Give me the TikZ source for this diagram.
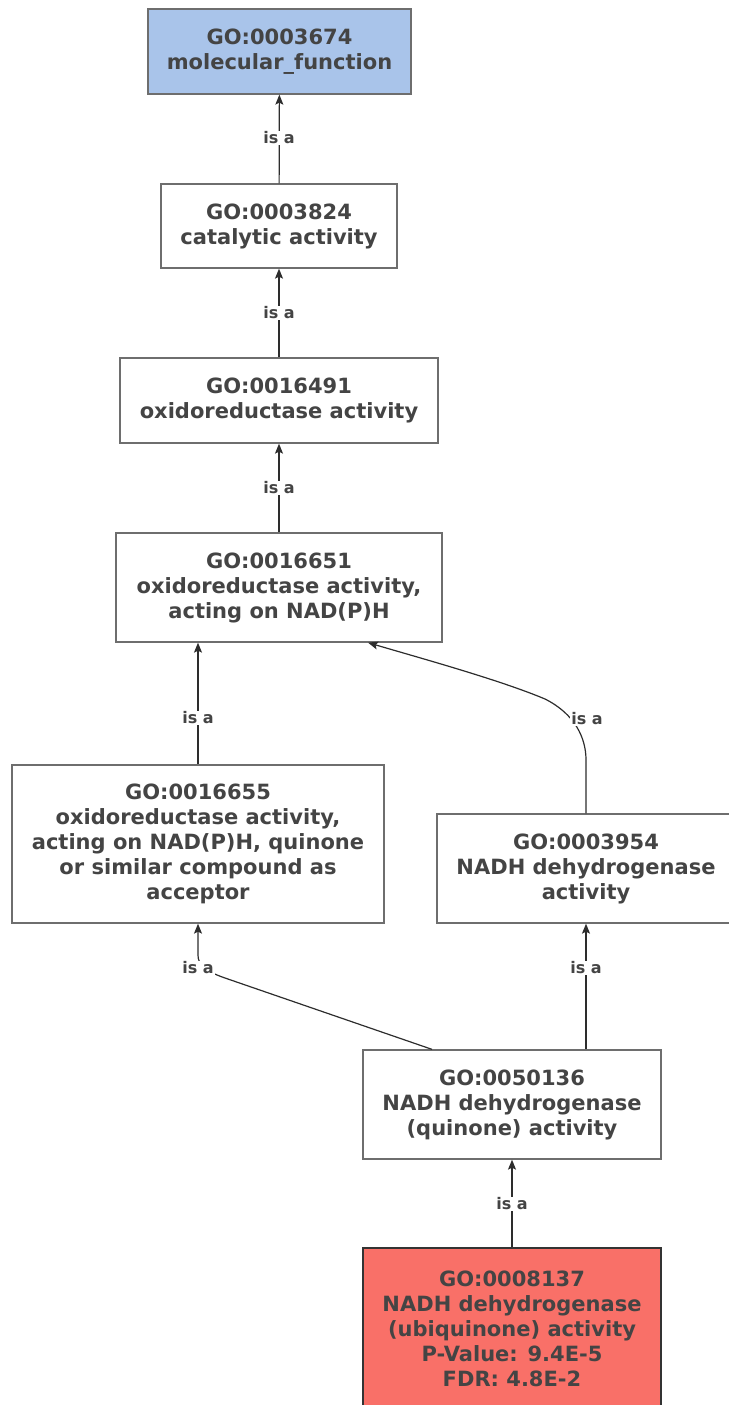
\documentclass[tikz,border=0pt]{standalone}
\usepackage{fontspec}
\setmainfont{DejaVu Sans}
\usetikzlibrary{arrows.meta,calc}
\definecolor{txt}{RGB}{68,68,68}
\definecolor{bord}{RGB}{110,110,110}
\definecolor{edgec}{RGB}{45,45,45}
\definecolor{bluef}{RGB}{169,196,234}
\definecolor{redf}{RGB}{249,112,104}
\tikzset{
  term/.style={draw=bord, line width=1.3pt, fill=white, align=center, inner sep=0pt,
    text=txt, font=\fontsize{21}{25}\selectfont\bfseries},
  edge/.style={draw=edgec, line width=1.2pt, -{Stealth[length=10pt,width=8pt,inset=2pt]}},
  lbl/.style={fill=white, inner sep=1pt, text=txt, font=\fontsize{16}{18}\selectfont\bfseries}
}
\begin{document}
\begin{tikzpicture}[x=1pt,y=-1pt]
\useasboundingbox (0,0) rectangle (728,1405);
\node[term, fill=bluef, minimum width=263, minimum height=85] (n1) at (279.5,51.5) {GO:0003674\\molecular\_function};
\node[term, minimum width=236, minimum height=84] (n2) at (279,226) {GO:0003824\\catalytic activity};
\node[term, minimum width=318, minimum height=85] (n3) at (279,400.5) {GO:0016491\\oxidoreductase activity};
\node[term, minimum width=326, minimum height=109] (n4) at (279,587.5) {GO:0016651\\oxidoreductase activity,\\acting on NAD(P)H};
\node[term, minimum width=372, minimum height=158] (n5) at (198,844) {GO:0016655\\oxidoreductase activity,\\acting on NAD(P)H, quinone\\or similar compound as\\acceptor};
\node[term, minimum width=298, minimum height=109] (n6) at (586,868.5) {GO:0003954\\NADH dehydrogenase\\activity};
\node[term, minimum width=298, minimum height=109] (n7) at (512,1104.5) {GO:0050136\\NADH dehydrogenase\\(quinone) activity};
\node[term, fill=redf, draw={rgb,255:red,51;green,51;blue,51}, line width=2.6pt, minimum width=298, minimum height=162] (n8) at (512,1329) {GO:0008137\\NADH dehydrogenase\\(ubiquinone) activity\\P-Value: 9.4E-5\\FDR: 4.8E-2};

\draw[edge] (n2) -- (n1);
\draw[edge] (n3) -- (n2);
\draw[edge] (n4) -- (n3);
\draw[edge] (n5.north) -- (n4.south -| n5.north);
\draw[edge] (n6.north) -- (586,760) .. controls (586,738) and (575,714) .. (545,699) .. controls (500,680) and (420,658) .. ($(n4.south)+(89,0)$);
\draw[edge] ($(n7.north)+(-80,0)$) -- (225,978) .. controls (205,971) and (198,965) .. (198,955) -- (n5.south);
\draw[edge] (n6.south |- n7.north) -- (n6.south);
\draw[edge] (n8) -- (n7);

\node[lbl] (l21) at (279,138) {is a};
\node[lbl] (l32) at (279,313) {is a};
\node[lbl] (l43) at (279,488) {is a};
\node[lbl] (l54) at (198,718) {is a};
\node[lbl] (l64) at (587,719) {is a};
\node[lbl] (l75) at (198,968) {is a};
\node[lbl] (l76) at (586,968) {is a};
\node[lbl] (l87) at (512,1204) {is a};
\end{tikzpicture}
\end{document}
